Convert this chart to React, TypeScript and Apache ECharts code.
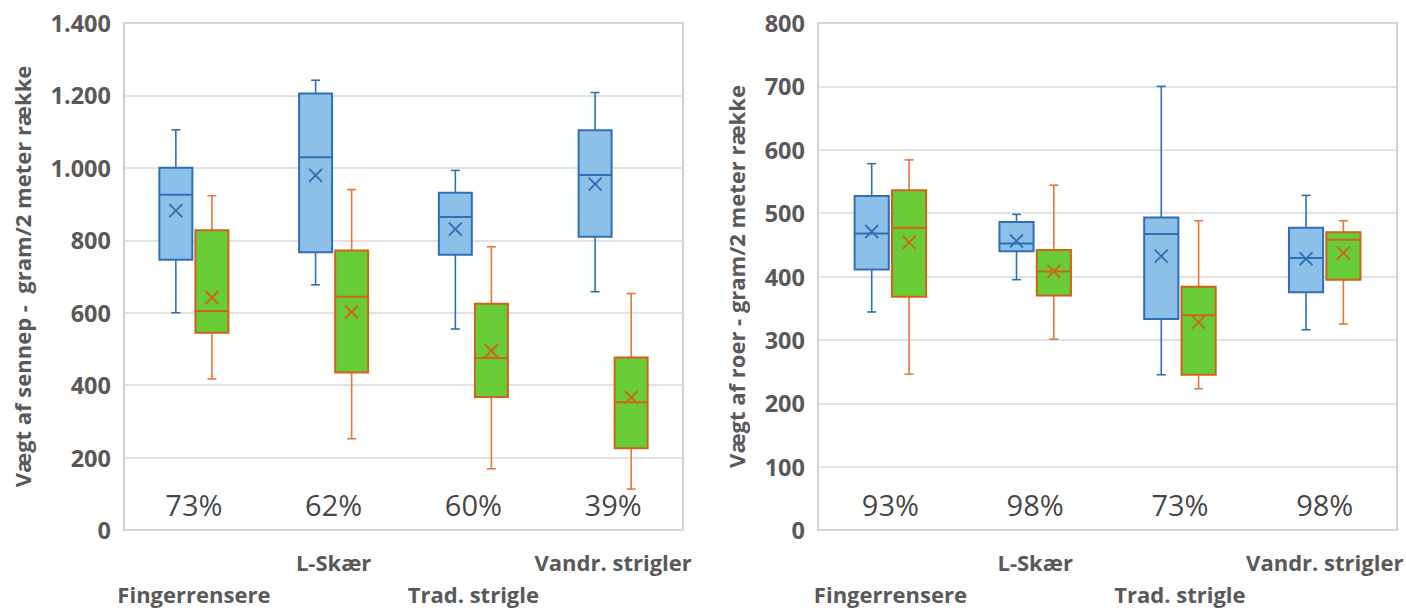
import React, { useEffect, useRef } from "react";
import * as echarts from "echarts";

// ---------- data ----------
const CATEGORIES = ["Fingerrensere", "L-Skær", "Trad. strigle", "Vandr. strigler"];

// [min, q1, median, q3, max, mean]
const SENNEP_BLUE = [
  [600, 746, 926, 1000, 1105, 882],
  [677, 767, 1029, 1205, 1242, 979],
  [555, 760, 864, 931, 993, 831],
  [658, 810, 980, 1104, 1208, 955],
];
const SENNEP_GREEN = [
  [417, 545, 605, 828, 923, 642],
  [252, 435, 644, 772, 940, 602],
  [169, 367, 475, 625, 782, 495],
  [113, 226, 353, 476, 653, 366],
];
const ROER_BLUE = [
  [344, 411, 468, 527, 578, 471],
  [395, 440, 452, 486, 498, 456],
  [245, 333, 467, 493, 700, 432],
  [316, 375, 429, 477, 528, 428],
];
const ROER_GREEN = [
  [246, 368, 477, 536, 584, 454],
  [301, 370, 408, 442, 544, 408],
  [223, 245, 339, 384, 488, 328],
  [325, 395, 458, 470, 488, 437],
];
const PCT_SENNEP = ["73%", "62%", "60%", "39%"];
const PCT_ROER = ["93%", "98%", "73%", "98%"];

const SENNEP_MAX = 1400;
const SENNEP_STEP = 200;
const ROER_MAX = 800;
const ROER_STEP = 100;

const TITLE_SENNEP = "Vægt af sennep -  gram/2 meter række";
const TITLE_ROER = "Vægt af roer - gram/2 meter række";

// ---------- styles ----------
const FONT = "'Open Sans', 'Noto Sans', sans-serif";
const GRAY = "#595959";
const BLUE_FILL = "#8dc0e8";
const BLUE_LINE = "#2f6fb5";
const GREEN_FILL = "#67cc36";
const ORANGE_LINE = "#d0631b";
const ORANGE_WHISKER = "#e5773a";

const fmtThousands = (v: number) =>
  v >= 1000 ? Math.floor(v / 1000) + "." + String(v % 1000).padStart(3, "0") : String(v);

const makeRender =
  (side: number, stroke: string, whisker: string, fill: string) => (_params: any, api: any) => {
    const cat = api.value(0);
    const base = api.coord([cat, 0]);
    const band = api.size([1, 0])[0];
    const bw = band * 0.236;
    const gap = band * 0.022;
    const cx = base[0] + side * (bw / 2 + gap / 2);
    const y = (i: number) => api.coord([cat, api.value(i)])[1];
    const yMin = y(1);
    const yQ1 = y(2);
    const yMed = y(3);
    const yQ3 = y(4);
    const yMax = y(5);
    const yMean = y(6);
    const cap = 4.5;
    const m = 6.5;
    const wl = { stroke: whisker, lineWidth: 1.6 };
    return {
      type: "group",
      children: [
        { type: "line", shape: { x1: cx, y1: yMax, x2: cx, y2: yQ3 }, style: wl },
        { type: "line", shape: { x1: cx, y1: yQ1, x2: cx, y2: yMin }, style: wl },
        { type: "line", shape: { x1: cx - cap, y1: yMax, x2: cx + cap, y2: yMax }, style: wl },
        { type: "line", shape: { x1: cx - cap, y1: yMin, x2: cx + cap, y2: yMin }, style: wl },
        {
          type: "rect",
          shape: { x: cx - bw / 2, y: yQ3, width: bw, height: yQ1 - yQ3 },
          style: { fill, stroke, lineWidth: 2 },
        },
        {
          type: "line",
          shape: { x1: cx - bw / 2, y1: yMed, x2: cx + bw / 2, y2: yMed },
          style: { stroke, lineWidth: 2 },
        },
        {
          type: "line",
          shape: { x1: cx - m, y1: yMean - m, x2: cx + m, y2: yMean + m },
          style: { stroke, lineWidth: 1.8 },
        },
        {
          type: "line",
          shape: { x1: cx - m, y1: yMean + m, x2: cx + m, y2: yMean - m },
          style: { stroke, lineWidth: 1.8 },
        },
      ],
    };
  };

const toItems = (rows: number[][]) => rows.map((r, i) => [i, ...r]);

const boxSeries = (
  rows: number[][],
  axis: number,
  side: number,
  stroke: string,
  whisker: string,
  fill: string
) => ({
  type: "custom",
  xAxisIndex: axis,
  yAxisIndex: axis,
  renderItem: makeRender(side, stroke, whisker, fill),
  encode: { x: 0, y: [1, 2, 3, 4, 5, 6] },
  data: toItems(rows),
  z: 3,
});

const pctSeries = (labels: string[], axis: number, yMax: number) => ({
  type: "scatter",
  xAxisIndex: axis,
  yAxisIndex: axis,
  symbolSize: 0,
  silent: true,
  data: labels.map((_, i) => [i, yMax * 0.05]),
  label: {
    show: true,
    position: "inside",
    formatter: (p: any) => labels[p.dataIndex],
    fontFamily: FONT,
    fontSize: 29,
    color: "#111111",
  },
  z: 4,
});

const xAxisDef = (gridIndex: number) => ({
  type: "category",
  gridIndex,
  data: CATEGORIES,
  axisLine: { show: false },
  axisTick: { show: false },
  splitLine: { show: false },
  axisLabel: {
    interval: 0,
    margin: 16,
    fontFamily: FONT,
    fontSize: 22,
    fontWeight: "bold",
    color: GRAY,
    lineHeight: 32,
    formatter: (v: string, i: number) => (i % 2 === 0 ? "\n" + v : v),
  },
});

const yAxisDef = (gridIndex: number, max: number, step: number, name: string, nameGap: number) => ({
  type: "value",
  gridIndex,
  min: 0,
  max,
  interval: step,
  name,
  nameLocation: "middle",
  nameGap,
  nameTextStyle: { fontFamily: FONT, fontSize: 22, fontWeight: "bold", color: GRAY },
  axisLine: { show: false },
  axisTick: { show: false },
  splitLine: { show: true, lineStyle: { color: "#d9d9d9", width: 1.5 } },
  axisLabel: {
    margin: 13,
    fontFamily: FONT,
    fontSize: 23.5,
    fontWeight: "bold",
    color: GRAY,
    formatter: (v: number) => fmtThousands(v),
  },
});

export default function App() {
  const ref = useRef<HTMLDivElement>(null);

  useEffect(() => {
    if (!ref.current) return;
    const chart = echarts.init(ref.current, undefined, { renderer: "svg" });
    chart.setOption({
      animation: false,
      backgroundColor: "#ffffff",
      textStyle: { fontFamily: FONT },
      grid: [
        { left: 124, top: 23, width: 559, height: 511, show: true, borderColor: "#cfcfcf", borderWidth: 2, backgroundColor: "transparent" },
        { left: 818, top: 23, width: 582, height: 511, show: true, borderColor: "#cfcfcf", borderWidth: 2, backgroundColor: "transparent" },
      ],
      xAxis: [xAxisDef(0), xAxisDef(1)],
      yAxis: [
        yAxisDef(0, SENNEP_MAX, SENNEP_STEP, TITLE_SENNEP, 91),
        yAxisDef(1, ROER_MAX, ROER_STEP, TITLE_ROER, 71),
      ],
      series: [
        boxSeries(SENNEP_BLUE, 0, -1, BLUE_LINE, BLUE_LINE, BLUE_FILL),
        boxSeries(SENNEP_GREEN, 0, 1, ORANGE_LINE, ORANGE_WHISKER, GREEN_FILL),
        boxSeries(ROER_BLUE, 1, -1, BLUE_LINE, BLUE_LINE, BLUE_FILL),
        boxSeries(ROER_GREEN, 1, 1, ORANGE_LINE, ORANGE_WHISKER, GREEN_FILL),
        pctSeries(PCT_SENNEP, 0, SENNEP_MAX),
        pctSeries(PCT_ROER, 1, ROER_MAX),
      ],
    });
    return () => chart.dispose();
  }, []);

  return (
    <div
      ref={ref}
      style={{ position: "fixed", left: 0, top: 0, width: 1406, height: 610, background: "#fff" }}
    />
  );
}
